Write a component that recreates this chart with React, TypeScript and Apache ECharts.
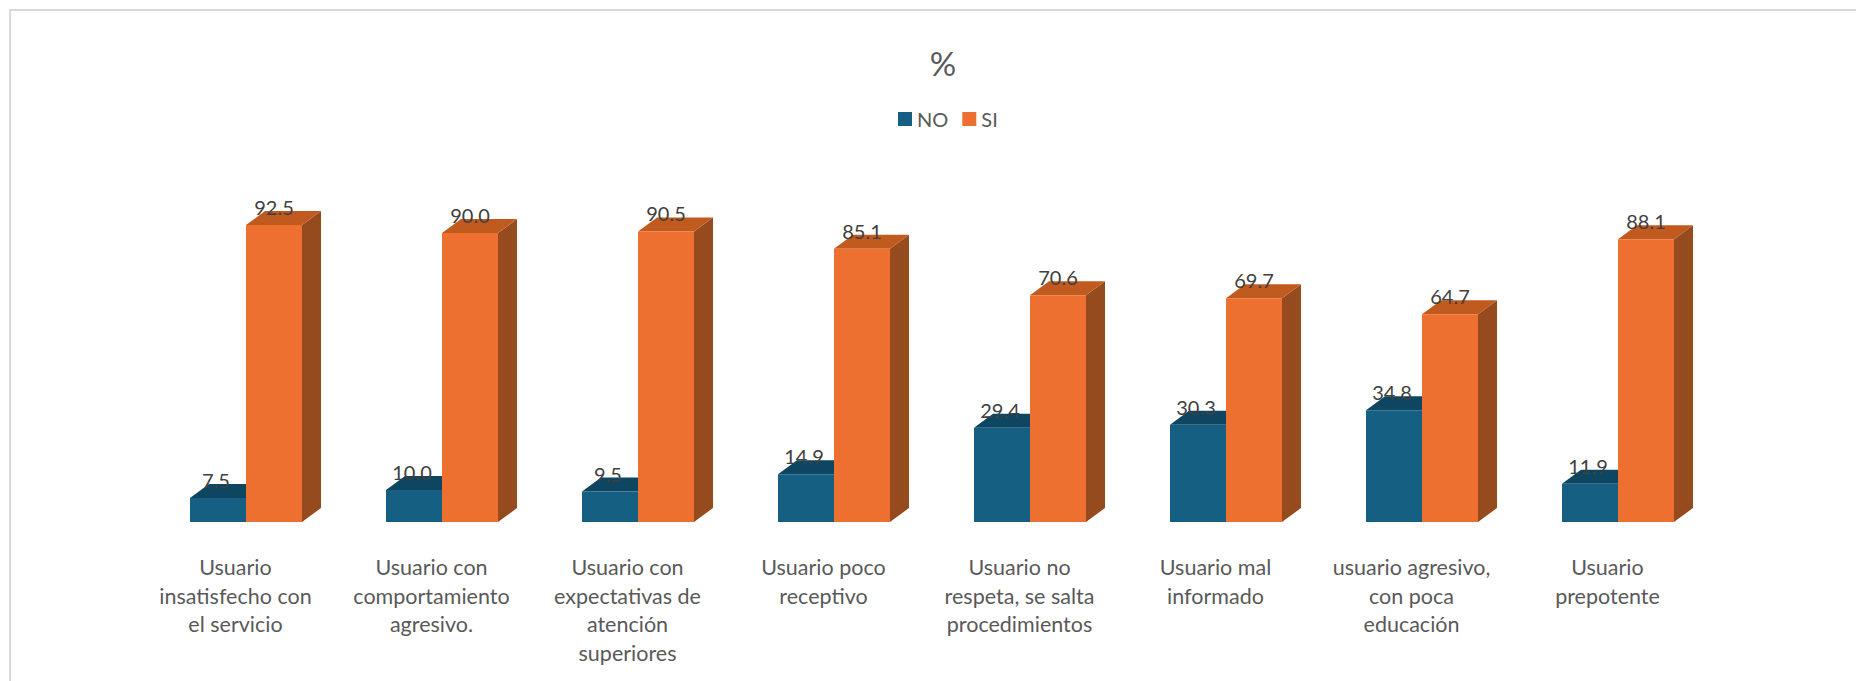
import React, { useEffect, useRef } from "react";
import * as echarts from "echarts";

const categories = [
  "Usuario\ninsatisfecho con\nel servicio",
  "Usuario con\ncomportamiento\nagresivo.",
  "Usuario con\nexpectativas de\natención\nsuperiores",
  "Usuario poco\nreceptivo",
  "Usuario no\nrespeta, se salta\nprocedimientos",
  "Usuario mal\ninformado",
  "usuario agresivo,\ncon poca\neducación",
  "Usuario\nprepotente",
];
const noValues = [7.5, 10.0, 9.5, 14.9, 29.4, 30.3, 34.8, 11.9];
const siValues = [92.5, 90.0, 90.5, 85.1, 70.6, 69.7, 64.7, 88.1];

const FONT = "Lato, 'Open Sans', sans-serif";

const makeRender = (offset: number, front: string, top: string, side: string, labelDx: number) =>
  (params: any, api: any) => {
    const i = api.value(0);
    const v = api.value(1);
    const [cx, yTop] = api.coord([i, v]);
    const [, yBase] = api.coord([i, 0]);
    const band = api.size([1, 0])[0];
    const w = band * 0.2857;
    const x0 = cx + offset * w;
    const x1 = x0 + w;
    const dx = 19;
    const dy = 14;
    return {
      type: "group",
      children: [
        { type: "polygon", shape: { points: [[x1, yBase], [x1 + dx, yBase - dy], [x1 + dx, yTop - dy], [x1, yTop]] }, style: { fill: side } },
        { type: "polygon", shape: { points: [[x0, yTop], [x0 + dx, yTop - dy], [x1 + dx, yTop - dy], [x1, yTop]] }, style: { fill: top } },
        { type: "rect", shape: { x: x0, y: yTop, width: w, height: yBase - yTop }, style: { fill: front } },
        {
          type: "text",
          x: x0 + w / 2 + labelDx,
          y: yTop - 18,
          style: { text: v.toFixed(1), fill: "#404040", font: `20px ${FONT}`, align: "center", verticalAlign: "middle" },
        },
      ],
    };
  };

export default function App() {
  const ref = useRef<HTMLDivElement>(null);
  useEffect(() => {
    const chart = echarts.init(ref.current!, undefined, { renderer: "svg" });
    chart.setOption({
      animation: false,
      backgroundColor: "#ffffff",
      title: {
        text: "%",
        left: 943,
        top: 46,
        padding: 0,
        textAlign: "center",
        textStyle: { fontFamily: FONT, fontSize: 33, fontWeight: "normal", color: "#595959" },
      },
      legend: {
        data: ["NO", "SI"],
        left: 898,
        top: 109,
        padding: 0,
        itemWidth: 14,
        itemHeight: 14,
        itemGap: 14,
        icon: "rect",
        textStyle: { fontFamily: FONT, fontSize: 20, color: "#595959" },
      },
      grid: { left: 148, top: 201, width: 1568, height: 321 },
      xAxis: {
        type: "category",
        data: categories,
        axisLine: { show: false },
        axisTick: { show: false },
        axisLabel: {
          interval: 0,
          margin: 31,
          fontFamily: FONT,
          fontSize: 21.5,
          lineHeight: 28.5,
          color: "#595959",
          padding: [0, 21, 0, 0],
        },
      },
      yAxis: { type: "value", min: 0, max: 100, show: false },
      series: [
        {
          name: "NO",
          type: "custom",
          data: noValues.map((v, i) => [i, v]),
          itemStyle: { color: "#156082" },
          renderItem: makeRender(-1, "#156082", "#0E4560", "#0E4560", -2),
          encode: { x: 0, y: 1 },
        },
        {
          name: "SI",
          type: "custom",
          data: siValues.map((v, i) => [i, v]),
          itemStyle: { color: "#ED7030" },
          renderItem: makeRender(0, "#ED7030", "#C05A1E", "#964B1E", 0),
          encode: { x: 0, y: 1 },
        },
      ],
      graphic: [
        { type: "line", shape: { x1: 9, y1: 10, x2: 1856, y2: 10 }, style: { stroke: "#D9D9D9", lineWidth: 2 } },
        { type: "line", shape: { x1: 10, y1: 10, x2: 10, y2: 681 }, style: { stroke: "#D9D9D9", lineWidth: 2 } },
      ],
    });
    return () => chart.dispose();
  }, []);
  return <div ref={ref} style={{ position: "fixed", left: 0, top: 0, width: 1856, height: 681 }} />;
}
